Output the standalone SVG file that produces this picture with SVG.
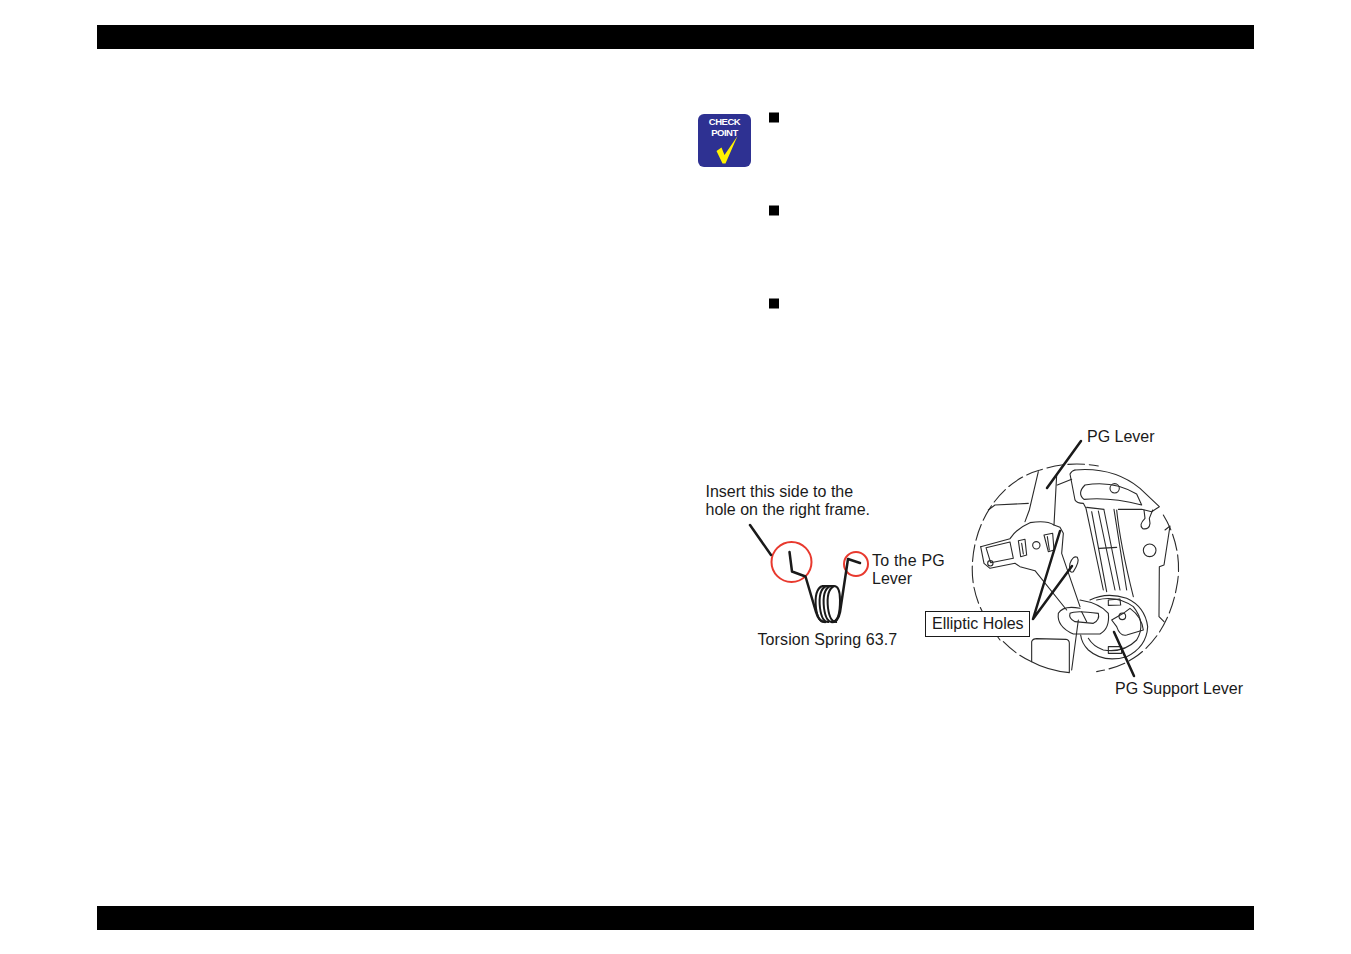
<svg xmlns="http://www.w3.org/2000/svg" width="1351" height="954" viewBox="0 0 1351 954">
<style>
text{font-family:"Liberation Sans",Arial,sans-serif;font-size:16px;fill:#1a1a1a}
.d{fill:none;stroke:#2a2a2a;stroke-width:3.300;stroke-linejoin:round;stroke-linecap:round}
.k{fill:none;stroke:#1a1a1a;stroke-width:2.500;stroke-linecap:round;stroke-linejoin:round}
.r{fill:none;stroke:#e8392e;stroke-width:2}
.b{fill:#000}
</style>
<rect width="1351" height="954" fill="#fff"/>
<rect class="b" x="97" y="25" width="1157" height="24"/>
<rect class="b" x="97" y="906" width="1157" height="24"/>
<g id="checkpoint">
<rect x="698" y="114" width="53" height="53" rx="6" fill="#2e3192"/>
<text x="724.500" y="125" text-anchor="middle" style="font-size:9.500px;font-weight:bold;fill:#fff;letter-spacing:-.5px">CHECK</text>
<text x="724.500" y="136" text-anchor="middle" style="font-size:9.500px;font-weight:bold;fill:#fff;letter-spacing:-.5px">POINT</text>
<path d="M716.500 151 L721.500 147.500 L724.500 155 L737.500 136 L725.500 163.500 L722.500 163.500Z" fill="#fff200"/>
</g>
<g id="bullets">
<rect class="b" x="769" y="112.500" width="10" height="10"/>
<rect class="b" x="769" y="205.500" width="10" height="10"/>
<rect class="b" x="769" y="298.500" width="10" height="10"/>
</g>
<g id="spring">
<circle class="r" cx="791.500" cy="562" r="20"/>
<circle class="r" cx="856" cy="564" r="12"/>
<path class="k" d="M789.500 552 L792 571.500 L805.500 576.500 L816 612 Q819 622 825 622"/>
<path class="k" d="M860 563 L848 559 L840 612 Q838 622 832 622"/>
<g fill="none" stroke="#1a1a1a" stroke-width="2">
<path d="M822 586 Q814 590 816 608 Q818 623 825 622"/>
<path d="M826 586 Q818 590 820 608 Q822 623 829 622"/>
<path d="M830 586 Q822 590 824 608 Q826 623 833 622"/>
<path d="M834 586 Q826 590 828 608 Q830 623 837 622"/>
<path d="M822 586 L834 586 Q840 586 840 600 Q840 622 832 622"/>
</g>
</g>
<g id="detail" transform="translate(960 450) scale(.33333)">
<path class="d" stroke-dasharray="50 14" d="M120 570 C60 490 30 420 38 330 C48 200 130 90 240 60 C300 40 360 38 415 48"/>
<path class="d" stroke-dasharray="50 14" d="M610 195 C650 260 665 340 650 410 C635 500 590 580 520 625 C490 645 450 658 410 665"/>
<path class="d" stroke-dasharray="50 14" d="M130 575 C160 605 190 625 215 635"/>
<path class="d" d="M235 65 L208 180 L195 215"/>
<path class="d" d="M105 165 L85 180 M105 165 L205 160"/>
<path class="d" d="M290 75 L282 225 M292 105 L335 88"/>
<path class="d" d="M345 60 Q335 62 330 72 L345 150 Q350 160 370 160 L378 175 L430 420"/>
<path class="d" d="M345 60 Q460 50 540 115 L598 170 L575 185 L545 178 L475 178 M432 178 L380 172"/>
<path class="d" d="M375 105 Q460 90 530 132 L545 165 Q450 140 372 148 Q350 130 375 105Z"/>
<circle class="d" cx="464" cy="115" r="14"/>
<path class="d" d="M552 180 L555 205 Q535 225 548 236 Q568 240 570 220 L568 205 L578 180"/>
<path class="d" d="M395 185 L440 425 M415 183 L465 420 M432 180 L480 420 M462 178 L500 420 M470 180 Q480 280 520 440"/>
<path class="d" d="M418 295 L470 292"/>
<circle class="d" cx="569" cy="301" r="19"/>
<path class="d" d="M615 240 L630 228 L612 345 L598 350 L597 500 L612 515"/>
<path class="d" d="M62 290 L150 266 Q170 235 210 218 Q260 210 282 225 L300 232 L310 250 L305 310 L360 470"/>
<path class="d" d="M62 290 L72 340 L90 355 L165 340 L180 350 L225 362 L320 480"/>
<path class="d" d="M78 293 L150 276 L160 325 L92 338Z"/>
<circle class="d" cx="91" cy="340" r="8"/>
<path class="d" d="M175 272 L195 268 L200 315 L182 320Z M185 280 L190 312"/>
<circle class="d" cx="229" cy="286" r="11"/>
<path class="d" d="M252 255 L278 250 L282 300 L265 305Z M262 260 L268 300"/>
<path class="d" d="M330 340 Q340 315 352 322 Q360 335 340 365 Q325 372 330 340Z"/>
<path class="d" d="M360 450 Q420 460 445 490 Q450 535 420 552 L340 552 Q290 530 295 490 Q310 465 360 475"/>
<path class="d" d="M330 490 Q345 480 415 490 Q420 510 400 520 L345 515 Q325 505 330 490Z"/>
<path class="d" d="M365 485 L380 515 M355 510 L335 660"/>
<path class="d" d="M390 450 Q440 425 500 445 Q555 470 563 530 Q560 590 500 620 Q430 640 385 600 Q365 580 362 555"/>
<path class="d" d="M410 450 Q470 435 520 470 Q560 520 530 570 Q490 610 430 600 Q400 590 385 565"/>
<path class="d" d="M445 450 L480 447 L482 465 L445 466Z M445 590 L485 590 L485 610 L445 610Z"/>
<path class="d" d="M455 510 L490 490 L510 475 Q545 500 550 540 L500 555 Q480 560 470 530Z"/>
<circle class="d" cx="487" cy="499" r="10"/>
<path class="d" d="M215 635 L215 575 Q218 566 230 566 L318 568 Q328 570 328 580 L328 668 Q260 660 215 635Z"/>
</g>
<g id="connectors">
<path class="k" d="M750 525 L771 555"/>
<path class="k" d="M1081 441 L1047 488"/>
<path class="k" d="M1060 531 L1033 619 M1072 566 L1033 619"/>
<path class="k" d="M1114 632 L1134 676"/>
</g>
<g id="labels">
<text x="705.500" y="497">Insert this side to the</text>
<text x="705.500" y="515">hole on the right frame.</text>
<text x="872" y="566" letter-spacing=".2">To the PG</text>
<text x="872" y="584">Lever</text>
<text x="757.500" y="645" letter-spacing=".1">Torsion Spring 63.7</text>
<text x="1087" y="442">PG Lever</text>
<text x="1115" y="694">PG Support Lever</text>
<g id="elliptic"><rect x="925.500" y="611.500" width="104" height="25" fill="#fff" stroke="#1a1a1a" stroke-width="1"/>
<text x="932" y="629">Elliptic Holes</text></g>
</g>
</svg>
